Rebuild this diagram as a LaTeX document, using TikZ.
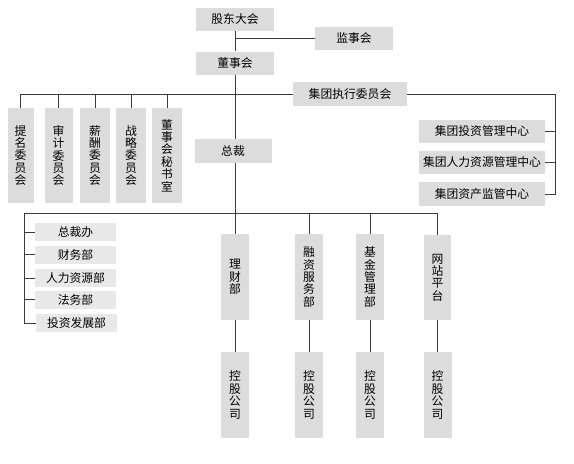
\documentclass[tikz,border=0pt]{standalone}
\usepackage{fontspec}
\setmainfont{Noto Sans CJK SC}
\usepackage{xcolor}
\definecolor{boxgray}{RGB}{220,220,220}
\definecolor{lightgray}{RGB}{232,232,232}
\definecolor{linegray}{RGB}{60,60,60}
\usetikzlibrary{positioning,calc}

\begin{document}
\begin{tikzpicture}[
  x=1pt, y=-1pt,
  hbox/.style={
    fill=boxgray, inner sep=0pt, minimum height=23pt,
    font=\fontsize{11.8}{12.4}\selectfont, align=center,
  },
  vbox/.style={
    fill=boxgray, inner sep=0pt, minimum width=28pt,
    font=\fontsize{11.8}{12.4}\selectfont, align=center,
  },
  smallbox/.style={
    fill=lightgray, inner sep=0pt, minimum width=81pt, minimum height=18pt,
    font=\fontsize{11.8}{12.4}\selectfont,
  },
  link/.style={draw=linegray, line width=0.9pt},
]
\useasboundingbox (0,0) rectangle (574,464);

% Top of the chart
\node[hbox, minimum width=78pt] (gd)  at (235, 19)  {股东大会};
\node[hbox, minimum width=78pt] (jsh) at (354, 38)  {监事会};
\node[hbox, minimum width=78pt] (dsh) at (235, 63)  {董事会};
\node[hbox, minimum width=114pt, minimum height=24pt] (zxw) at (350, 94) {集团执行委员会};

% Committees under the board
\node[vbox, minimum height=95pt, minimum width=26pt] (c1) at (20.5, 155.5) {提\\名\\委\\员\\会};
\node[vbox, minimum height=95pt] (c2) at (58.5, 155.5) {审\\计\\委\\员\\会};
\node[vbox, minimum height=95pt, minimum width=30pt] (c3) at (95, 155.5)   {薪\\酬\\委\\员\\会};
\node[vbox, minimum height=95pt, minimum width=30pt] (c4) at (131, 155.5)  {战\\略\\委\\员\\会};
\node[vbox, minimum height=95pt, minimum width=30pt] (c5) at (167, 155.5)  {董\\事\\会\\秘\\书\\室};

\node[hbox, minimum width=77pt, minimum height=24pt] (zc) at (233, 151) {总裁};

% Group centres on the right
\node[hbox, minimum width=126pt] (jt1) at (482, 131.5) {集团投资管理中心};
\node[hbox, minimum width=126pt] (jt2) at (482, 162)   {集团人力资源管理中心};
\node[hbox, minimum width=126pt, minimum height=24pt] (jt3) at (482, 194) {集团资产监管中心};

% Offices on the left
\node[smallbox] (s1) at (75.5, 232)   {总裁办};
\node[smallbox] (s2) at (75.5, 254.5) {财务部};
\node[smallbox] (s3) at (75.5, 278)   {人力资源部};
\node[smallbox] (s4) at (75.5, 299.5) {法务部};
\node[smallbox] (s5) at (76.5, 323)   {投资发展部};

% Departments and their holding companies
\node[vbox, minimum height=86pt] (b1) at (235, 277)   {理\\财\\部};
\node[vbox, minimum height=86pt] (b2) at (309, 277)   {融\\资\\服\\务\\部};
\node[vbox, minimum height=86pt] (b3) at (370, 277)   {基\\金\\管\\理\\部};
\node[vbox, minimum height=85pt, minimum width=27pt] (b4) at (437.5, 277.5) {网\\站\\平\\台};

\foreach \n/\x in {k1/235, k2/309, k3/370, k4/437.5} {
  \node[vbox, minimum height=86pt] (\n) at (\x, 395) {控\\股\\公\\司};
}

% Bus points
\coordinate (busR) at (555, 94);
\coordinate (busL) at (24, 213);

% Connectors
\draw[link] (gd.south) -- (dsh.north);
\draw[link] (gd.south |- jsh.west) -- (jsh.west);
\draw[link] (dsh.south) -- (dsh.south |- zc.north);
\draw[link] (c1.north) |- (zxw.west);
\foreach \n in {c2, c3, c4, c5} {
  \draw[link] (\n.north) -- (\n.north |- zxw.west);
}
\draw[link] (zxw.east) -- (busR) -- (busR |- jt3.east) -- (jt3.east);
\foreach \n in {jt1, jt2} {
  \draw[link] (\n.east) -- (\n.east -| busR);
}
\draw[link] (dsh.south |- zc.south) -- (b1.north);
\draw[link] (busL) -- (busL -| b4.north) -- (b4.north);
\foreach \n in {b2, b3} {
  \draw[link] (\n.north) -- (\n.north |- busL);
}
\draw[link] (busL) |- (s5.west);
\foreach \n in {s1, s2, s3, s4} {
  \draw[link] (\n.west -| busL) -- (\n.west);
}
\foreach \i in {1, 2, 3, 4} {
  \draw[link] (b\i.south) -- (k\i.north);
}

\end{tikzpicture}
\end{document}
